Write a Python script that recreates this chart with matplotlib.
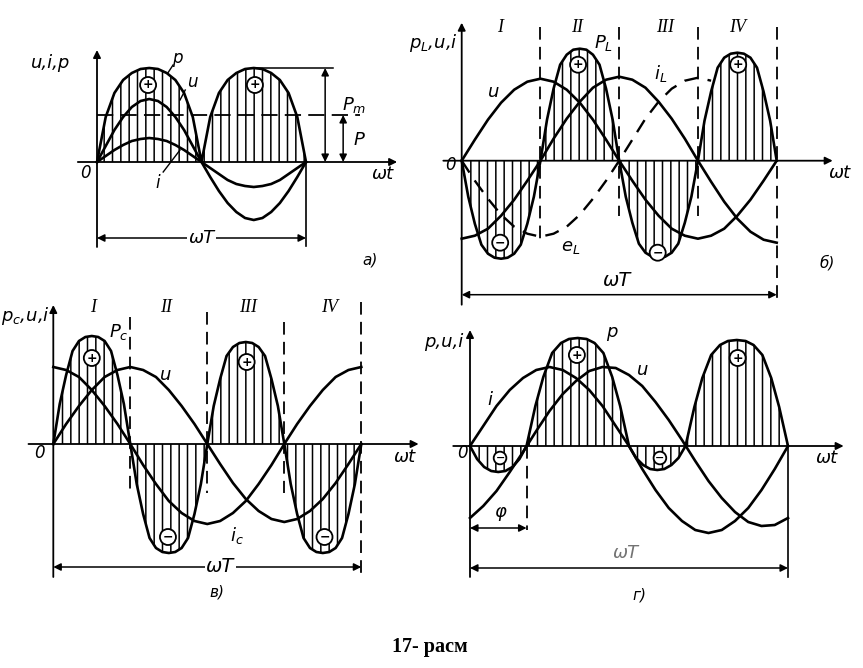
import numpy as np
import matplotlib.pyplot as plt

W, H = 863, 668
plt.rcParams['hatch.linewidth'] = 1.1
plt.rcParams['mathtext.fontset'] = 'dejavusans'

# sample angles (degrees of wt), one period per panel
deg15 = np.arange(0, 361, 15)
deg7 = np.arange(0, 360.1, 7.5)

# values are read off the figure, in pixels above the time axis
# a) resistive load
u_a = [0, 16, 32, 45, 55, 61, 63, 61, 55, 45, 32, 16, 0,
       -15, -29, -41, -50, -56, -58, -56, -50, -41, -29, -15, 0]
i_a = [0, 6, 12, 17, 21, 23, 24, 23, 21, 17, 12, 6, 0,
       -6, -12, -18, -22, -24, -25, -24, -22, -18, -12, -6, 0]
p_a = [0, 45, 69, 82, 89, 93, 94, 93, 89, 82, 69, 45, 0,
       45, 69, 82, 89, 93, 94, 93, 89, 82, 69, 45, 0]
P_avg_a = 47

# б) inductive load
u_b = [0, 21, 41, 58, 71, 79, 82, 79, 71, 58, 41, 21, 0,
       -20, -39, -55, -68, -75, -78, -75, -68, -55, -39, -20, 0]
i_b = [-78, -75, -68, -55, -39, -20, 0, 22, 42, 59, 73, 81, 84,
       81, 73, 59, 42, 22, 0, -21, -41, -58, -71, -79, -82]
e_b = [0, -20, -38, -54, -66, -73, -76, -73, -66, -54, -38, -20, 0,
       21, 42, 59, 72, 80, 83, 80]
p_b = [0, -36, -63, -84, -93, -97, -98, -97, -93, -84, -63, -36,
       0, 41, 72, 96, 106, 111, 112, 111, 106, 96, 72, 41,
       0, -36, -62, -83, -92, -96, -97, -96, -92, -83, -62, -36,
       0, 40, 69, 93, 103, 107, 108, 107, 103, 93, 69, 40, 0]

# в) capacitive load
u_c = [0, 20, 38, 54, 67, 74, 77, 74, 67, 54, 38, 20, 0,
       -20, -39, -55, -67, -75, -78, -75, -67, -55, -39, -20, 0]
i_c = [77, 74, 67, 54, 38, 20, 0, -21, -40, -57, -69, -77, -80,
       -77, -69, -57, -40, -21, 0, 20, 38, 54, 67, 74, 77]
p_c = [0, 40, 69, 93, 103, 107, 108, 107, 103, 93, 69, 40,
       0, -40, -70, -94, -104, -108, -109, -108, -104, -94, -70, -40,
       0, 38, 65, 88, 97, 101, 102, 101, 97, 88, 65, 38,
       0, -40, -70, -94, -104, -108, -109, -108, -104, -94, -70, -40, 0]

# г) mixed load, current leads voltage by phi
phi_g = 64
i_g = [0, 20, 40, 56, 68, 76, 79, 76, 68, 56, 40, 20, 0,
       -23, -44, -62, -75, -84, -87, -84, -75, -62, -44, -23, 0]
u_g = [-72, -60, -45, -26, -6, 15, 35, 52, 65, 75, 79, 78, 71,
       60, 44, 26, 6, -15, -35, -52, -66, -76, -80, -79, -72]
p_g_deg = [0, 8, 16, 24, 32, 40, 48, 56, 64,
           74, 83, 93, 103, 112, 122, 132, 141, 151, 161, 170, 180,
           188, 196, 204, 212, 220, 228, 236, 244,
           254, 263, 273, 283, 292, 302, 312, 321, 331, 341, 350, 360]
p_g = [0, -13, -21, -25, -26, -25, -21, -13, 0,
       40, 69, 93, 103, 107, 108, 107, 103, 93, 69, 40, 0,
       -12, -19, -23, -24, -23, -19, -12, 0,
       39, 68, 91, 101, 105, 106, 105, 101, 91, 68, 39, 0]

fig = plt.figure(figsize=(W / 100, H / 100), dpi=100)
fig.patch.set_facecolor('white')


def panel(origin, period, box):
    """axes whose x is degrees of wt and y is pixels above the axis"""
    left, top, right, bottom = box
    ax = fig.add_axes([left / W, 1 - bottom / H, (right - left) / W, (bottom - top) / H])
    k = 360 / period
    ax.set_xlim((left - origin[0]) * k, (right - origin[0]) * k)
    ax.set_ylim(origin[1] - bottom, origin[1] - top)
    ax.axis('off')
    return ax


def arrow(ax, x0, y0, x1, y1, style='-|>', lw=1.3):
    ax.annotate('', xy=(x1, y1), xytext=(x0, y0),
                arrowprops=dict(arrowstyle=style, color='k', lw=lw,
                                shrinkA=0, shrinkB=0, mutation_scale=11))


def sign(ax, x, y, s, size=9):
    ax.text(x, y, s, ha='center', va='center', fontsize=size, fontweight='bold',
            bbox=dict(boxstyle='circle,pad=0.12', fc='white', ec='k', lw=1.3))


def label(ax, x, y, s, size=12, **kw):
    kw.setdefault('ha', 'center')
    ax.text(x, y, s, fontsize=size, style='italic', va='center', **kw)


def roman(ax, x, y, s):
    ax.text(x, y, s, fontsize=13, style='italic', family='Liberation Serif',
            ha='center', va='center')


def power(ax, x, y):
    ax.fill_between(x, 0, y, facecolor='none', edgecolor='k', hatch='||', linewidth=0)
    ax.plot(x, y, color='k', lw=1.9)


def vdash(ax, x, y0, y1):
    ax.plot([x, x], [y0, y1], color='k', lw=1.3, dashes=(7, 4))


# ---------- a) ----------
ax = panel((97, 162), 209, (30, 30, 425, 280))
power(ax, deg15, p_a)
ax.plot(deg15, u_a, color='k', lw=1.9)
ax.plot(deg15, i_a, color='k', lw=1.9)
arrow(ax, 0, -85, 0, 112)
arrow(ax, -33, 0, 517, 0)
ax.plot([360, 360], [0, -84], color='k', lw=1.2)
ax.plot([0, 453], [P_avg_a, P_avg_a], color='k', lw=1.3, dashes=(9, 4))
ax.plot([270, 406], [max(p_a), max(p_a)], color='k', lw=1.1)
arrow(ax, 393, 0, 393, max(p_a), '<|-|>', 1.1)
arrow(ax, 424, 0, 424, P_avg_a, '<|-|>', 1.1)
arrow(ax, 0, -76, 360, -76, '<|-|>', 1.1)
label(ax, 180, -76, 'ωT', 13, bbox=dict(fc='white', ec='none', pad=1))
label(ax, -80, 99, 'u,i,p', 13)
label(ax, -20, -11, '0')
label(ax, 493, -12, 'ωt', 13)
label(ax, 443, 57, r'$P_m$', 13)
label(ax, 452, 22, r'$P$', 13)
label(ax, 470, -98, 'а)', 11)
label(ax, 139, 104, 'p', 12)
ax.plot([131, 122], [97, 89], color='k', lw=1)
label(ax, 165, 80, 'u', 12)
ax.plot([152, 143], [72, 62], color='k', lw=1)
label(ax, 105, -21, 'i', 12)
ax.plot([114, 143], [-10, 12], color='k', lw=1)
sign(ax, 88, 77, '+')
sign(ax, 272, 77, '+')

# ---------- б) ----------
ax = panel((461.7, 160.7), 315, (395, 5, 860, 315))
power(ax, deg7, p_b)
ax.plot(deg15, u_b, color='k', lw=1.9)
ax.plot(deg15, i_b, color='k', lw=1.9)
ax.plot(deg15[:len(e_b)], e_b, color='k', lw=1.7, dashes=(6, 4))
arrow(ax, 0, -144, 0, 138)
arrow(ax, -21, 0, 424, 0)
vdash(ax, 90, 134, -82)
vdash(ax, 180, 134, -55)
vdash(ax, 270, 134, -55)
vdash(ax, 360, 134, -144)
arrow(ax, 0, -134, 360, -134, '<|-|>', 1.1)
label(ax, 177, -120, 'ωT', 14)
for x, s in zip([44, 132, 232, 315], ['I', 'II', 'III', 'IV']):
    roman(ax, x, 133, s)
label(ax, -5, 118, r'$p_L$,u,i', 13, ha='right')
label(ax, 36, 69, 'u', 13)
label(ax, 162, 118, r'$P_L$', 13)
label(ax, 227, 87, r'$i_L$', 13)
label(ax, 124, -86, r'$e_L$', 13)
label(ax, -13, -4, '0')
label(ax, 432, -12, 'ωt', 13)
label(ax, 418, -102, 'б)', 11)
sign(ax, 133, 96, '+')
sign(ax, 316, 96, '+')
sign(ax, 44, -82, '−')
sign(ax, 224, -92, '−')

# ---------- в) ----------
ax = panel((53.3, 444), 308, (0, 295, 425, 615))
power(ax, deg7, p_c)
ax.plot(deg15, u_c, color='k', lw=1.9)
ax.plot(deg15, i_c, color='k', lw=1.9)
arrow(ax, 0, -133, 0, 139)
arrow(ax, -29, 0, 427, 0)
vdash(ax, 90, 127, -49)
vdash(ax, 180, 132, -49)
vdash(ax, 270, 122, -49)
vdash(ax, 360, 142, -133)
arrow(ax, 0, -123, 360, -123, '<|-|>', 1.1)
label(ax, 195, -123, 'ωT', 14, bbox=dict(fc='white', ec='none', pad=1))
for x, s in zip([47, 132, 228, 323], ['I', 'II', 'III', 'IV']):
    roman(ax, x, 136, s)
label(ax, -4, 128, r'$p_c$,u,i', 13, ha='right')
label(ax, 76, 112, r'$P_c$', 13)
label(ax, 131, 69, 'u', 13)
label(ax, 215, -91, r'$i_c$', 13)
label(ax, -16, -9, '0')
label(ax, 411, -13, 'ωt', 13)
label(ax, 191, -148, 'в)', 11)
sign(ax, 45, 86, '+')
sign(ax, 226, 82, '+')
sign(ax, 134, -93, '−')
sign(ax, 317, -93, '−')

# ---------- г) ----------
ax = panel((470, 446), 318, (400, 300, 860, 625))
power(ax, p_g_deg, p_g)
ax.plot(deg15, i_g, color='k', lw=1.9)
ax.plot(deg15, u_g, color='k', lw=1.9)
arrow(ax, 0, -131, 0, 116)
arrow(ax, -19, 0, 423, 0)
vdash(ax, phi_g, 0, -84)
arrow(ax, 0, -82, phi_g, -82, '<|-|>', 1.1)
ax.plot([360, 360], [0, -131], color='k', lw=1.2)
arrow(ax, 0, -122, 360, -122, '<|-|>', 1.1)
label(ax, 177, -107, 'ωT', 13, color='0.45')
label(ax, 34, -66, 'φ', 13)
label(ax, -8, 104, 'p,u,i', 13, ha='right')
label(ax, 161, 114, 'p', 13)
label(ax, 196, 76, 'u', 13)
label(ax, 23, 46, 'i', 13)
label(ax, -9, -7, '0')
label(ax, 404, -12, 'ωt', 13)
label(ax, 192, -149, 'г)', 11)
sign(ax, 34, -12, '−', 8)
sign(ax, 121, 91, '+')
sign(ax, 215, -12, '−', 8)
sign(ax, 303, 88, '+')

fig.text(430 / W, 1 - 647 / H, '17- расм', ha='center', va='center',
         fontsize=14.5, fontweight='bold', family='Liberation Serif')

fig.savefig('out.png', dpi=100, facecolor='white')
